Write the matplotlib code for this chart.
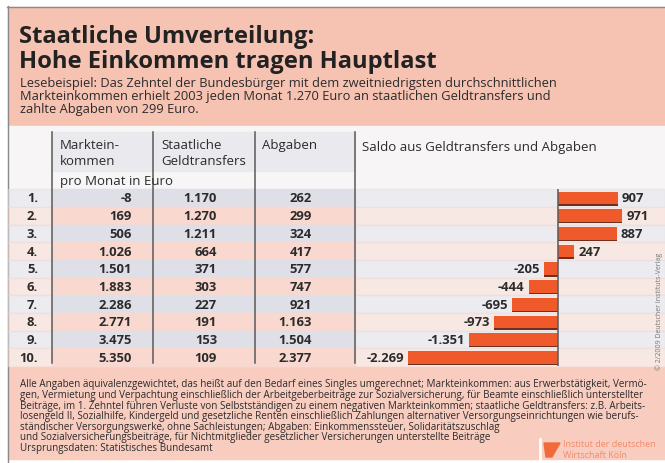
import matplotlib
matplotlib.use('Agg')
import matplotlib.pyplot as plt
from matplotlib.patches import Rectangle, Polygon

# Daten
ranks = ['1.', '2.', '3.', '4.', '5.', '6.', '7.', '8.', '9.', '10.']
markteinkommen = [-8, 169, 506, 1026, 1501, 1883, 2286, 2771, 3475, 5350]
geldtransfers = [1170, 1270, 1211, 664, 371, 303, 227, 191, 153, 109]
abgaben = [262, 299, 324, 417, 577, 747, 921, 1163, 1504, 2377]
saldo = [907, 971, 887, 247, -205, -444, -695, -973, -1351, -2269]

title = ['Staatliche Umverteilung:', 'Hohe Einkommen tragen Hauptlast']
subtitle = ['Lesebeispiel: Das Zehntel der Bundesbürger mit dem zweitniedrigsten durchschnittlichen',
            'Markteinkommen erhielt 2003 jeden Monat 1.270 Euro an staatlichen Geldtransfers und',
            'zahlte Abgaben von 299 Euro.']
footer = ['Alle Angaben äquivalenzgewichtet, das heißt auf den Bedarf eines Singles umgerechnet; Markteinkommen: aus Erwerbstätigkeit, Vermö-',
          'gen, Vermietung und Verpachtung einschließlich der Arbeitgeberbeiträge zur Sozialversicherung, für Beamte einschließlich unterstellter',
          'Beiträge, im 1. Zehntel führen Verluste von Selbstständigen zu einem negativen Markteinkommen; staatliche Geldtransfers: z.B. Arbeits-',
          'losengeld II, Sozialhilfe, Kindergeld und gesetzliche Renten einschließlich Zahlungen alternativer Versorgungseinrichtungen wie berufs-',
          'ständischer Versorgungswerke, ohne Sachleistungen; Abgaben: Einkommenssteuer, Solidaritätszuschlag',
          'und Sozialversicherungsbeiträge, für Nichtmitglieder gesetzlicher Versicherungen unterstellte Beiträge',
          'Ursprungsdaten: Statistisches Bundesamt']


def fmt(v):
    return f'{v:,}'.replace(',', '.')


plt.rcParams['font.family'] = ['Open Sans', 'DejaVu Sans']

W, H = 665, 464
fig = plt.figure(figsize=(W / 100, H / 100), dpi=100)
ax = fig.add_axes([0, 0, 1, 1])
ax.set_xlim(0, W)
ax.set_ylim(H, 0)
ax.axis('off')

dark = '#2b2b2b'
pink = '#f6c3b2'

# Hintergruende
ax.add_patch(Rectangle((0, 0), W, H, color='white', zorder=0))
ax.add_patch(Rectangle((8, 8), W - 8, 119, color=pink, zorder=1))
ax.add_patch(Rectangle((8, 127), W - 8, 241, color='#f7f5f5', zorder=1))
ax.add_patch(Rectangle((8, 368), W - 8, 92, color='#f8cdc0', zorder=1))
ax.plot([7, W], [7.5, 7.5], color='#8a8a8a', lw=1, zorder=2)
ax.plot([7.5, 7.5], [7, H], color='#8a8a8a', lw=1, zorder=2)

# Titel
ax.text(19, 43, title[0], fontsize=17.1, fontweight='bold', color='#222222', zorder=3)
ax.text(19, 68.5, title[1], fontsize=17.1, fontweight='bold', color='#222222', zorder=3)
for i, line in enumerate(subtitle):
    ax.text(20, 83 + i * 13.2, line, fontsize=9.3, color=dark, va='center', zorder=3)

# Tabelle
row0, step = 199, 17.7
ax.add_patch(Rectangle((52, 133), 303, 39, color='#e9e9ee', zorder=2))
for i in range(len(ranks)):
    y = row0 + i * step
    c = '#dfdfe8' if i % 2 == 0 else '#f9d9cf'
    ax.add_patch(Rectangle((8, y - step / 2), W - 8, step, color=c, alpha=0.45, zorder=2))
    ax.add_patch(Rectangle((52, y - step / 2), 303, step, color=c, zorder=2))

for x in [52, 153, 255, 355]:
    ax.plot([x, x], [133, 364], color='#5a5a5a', lw=1.1, zorder=4)

hdr = dict(fontsize=9.5, color=dark, va='center', zorder=5)
ax.text(60, 146, 'Marktein-', **hdr)
ax.text(60, 162, 'kommen', **hdr)
ax.text(161, 146, 'Staatliche', **hdr)
ax.text(161, 162, 'Geldtransfers', **hdr)
ax.text(262, 146, 'Abgaben', **hdr)
ax.text(362, 148, 'Saldo aus Geldtransfers und Abgaben', **hdr)
ax.text(60, 182, 'pro Monat in Euro', **hdr)

val = dict(fontsize=9.4, fontweight='bold', color=dark, va='center', ha='right', zorder=5)
for i in range(len(ranks)):
    y = row0 + i * step
    ax.text(38, y, ranks[i], **val)
    ax.text(132, y, fmt(markteinkommen[i]), **val)
    ax.text(217, y, fmt(geldtransfers[i]), **val)
    ax.text(312, y, fmt(abgaben[i]), **val)

# Balken: Nullpunkt bei x=558, 0.066 px je Euro
zero_px, scale = 558, 0.066
left_px, right_px = 380, 650
top_px = row0 - step / 2
bot_px = row0 + (len(ranks) - 0.5) * step
bx = fig.add_axes([left_px / W, 1 - bot_px / H, (right_px - left_px) / W, (bot_px - top_px) / H])
bx.set_xlim((left_px - zero_px) / scale, (right_px - zero_px) / scale)
bx.set_ylim(len(ranks) - 0.5, -0.5)
bx.axis('off')
pos = list(range(len(saldo)))
bx.barh([p + 0.07 for p in pos], saldo, height=0.74, color='#6b3020', zorder=2)
bx.barh(pos, saldo, height=0.72, color='#f0592a', zorder=3)
bx.axvline(0, ymin=0, ymax=1, color='#5a5a5a', lw=1.1, zorder=4)
for p, v in zip(pos, saldo):
    bx.annotate(fmt(v), (v, p), xytext=(3 if v > 0 else -3, 0), textcoords='offset points',
                ha='left' if v > 0 else 'right', va='center', fontsize=9.4,
                fontweight='bold', color=dark, zorder=5)

ax.text(659, 311, '© 2/2009 Deutscher Instituts-Verlag', rotation=90, fontsize=5,
        color='#777777', ha='center', va='center', zorder=5)

# Fussnote
for i, line in enumerate(footer):
    ax.text(20, 385 + i * 10.6, line, fontsize=7.15, color=dark, va='center', zorder=5)

# Logo
ax.plot([540, 540], [440, H], color='white', lw=2, zorder=5)
ax.add_patch(Polygon([(544, 444), (560, 444), (552, 458), (546, 458)], color='#f26a3c', zorder=5))
ax.text(563, 445, 'Institut der deutschen', fontsize=6.5, color='#f28a6a', va='center', zorder=5)
ax.text(563, 456, 'Wirtschaft Köln', fontsize=6.5, color='#f28a6a', va='center', zorder=5)

fig.savefig('out.png', dpi=100)
